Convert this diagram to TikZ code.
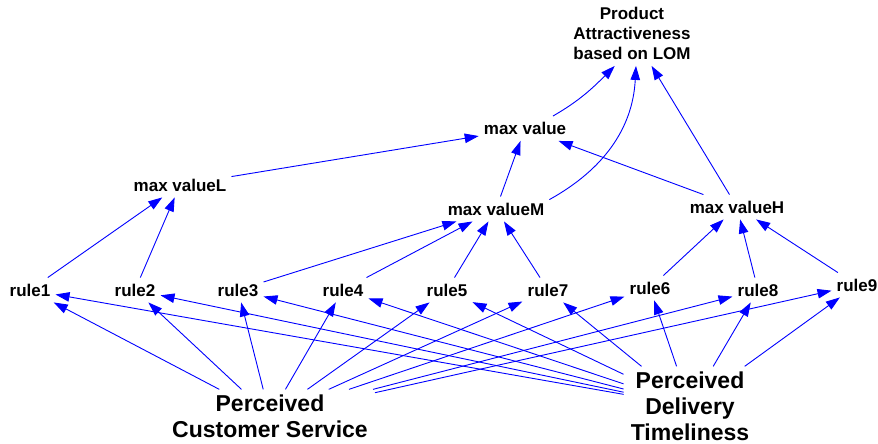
\documentclass[tikz,border=0pt]{standalone}
\usepackage{fontspec}
\setmainfont{Liberation Sans}
\usetikzlibrary{arrows.meta}
\begin{document}
\begin{tikzpicture}[x=1pt,y=1pt,
  lab/.style={font=\bfseries\fontsize{17}{20}\selectfont, inner xsep=5pt, inner ysep=6pt},
  biglab/.style={font=\bfseries\fontsize{23}{26}\selectfont, inner xsep=7pt, inner ysep=5pt, align=center},
  arr/.style={draw=blue, line width=0.9pt, -{Triangle[length=14pt,width=9.5pt]}}
]
\useasboundingbox (0,0) rectangle (878,444);
\node[lab,align=center] (prod) at (632,410.5) {Product\\Attractiveness\\based on LOM};
\node[lab] (mv)  at (525,315.5) {max value};
\node[lab] (mvL) at (180,259) {max valueL};
\node[lab] (mvM) at (496,235) {max valueM};
\node[lab] (mvH) at (737,237) {max valueH};
\node[lab] (r1) at (30,154) {rule1};
\node[lab] (r2) at (135,154) {rule2};
\node[lab] (r3) at (238,154) {rule3};
\node[lab] (r4) at (343,154) {rule4};
\node[lab] (r5) at (447,154) {rule5};
\node[lab] (r7) at (548,154) {rule7};
\node[lab] (r6) at (650,156) {rule6};
\node[lab] (r8) at (758,154) {rule8};
\node[lab] (r9) at (857,159) {rule9};
\node[biglab] (pcs) at (270,28) {Perceived\\Customer Service};
\node[biglab] (pdt) at (690,38) {Perceived\\Delivery\\Timeliness};
\foreach \s/\t in {mvL/mv, mvM/mv, mvH/mv, mvH/prod, r1/mvL, r2/mvL, r3/mvM, r4/mvM, r5/mvM, r7/mvM, r6/mvH, r8/mvH, r9/mvH}
  \draw[arr] (\s) -- (\t);
\foreach \t in {r1,r2,r3,r4,r5,r7,r6,r8,r9} {
  \draw[arr] (pcs) -- (\t);
  \draw[arr] (pdt) -- (\t);
}
\draw[arr] (mv.24) to[out=30,in=-135] (prod.-118);
\draw[arr] (mvM.10) to[out=29,in=-93] (prod.-83);
\end{tikzpicture}
\end{document}
